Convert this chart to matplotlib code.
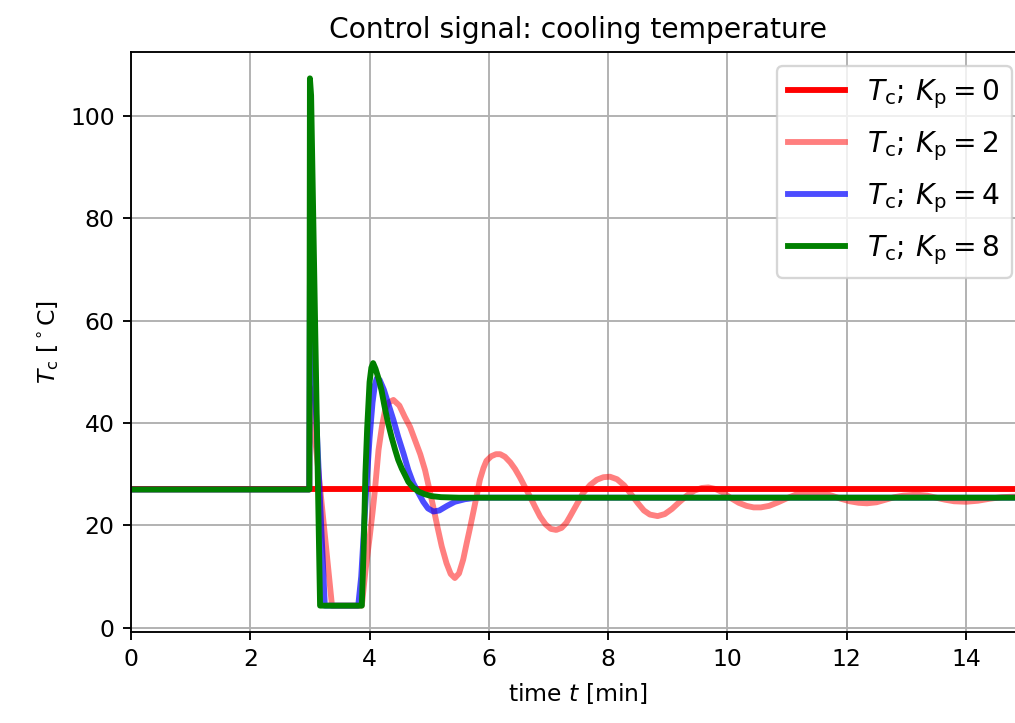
import numpy as np
import matplotlib
matplotlib.use("Agg")
import matplotlib.pyplot as plt

# values (time in min, temperature in degC)
t_kp0 = [0, 15]
Tc_kp0 = [27, 27]

t_kp2 = [0, 2.99, 3.0, 3.37, 3.87, 3.93, 4.0, 4.05, 4.09, 4.15, 4.21, 4.26, 4.32,
         4.40, 4.5, 4.59, 4.68, 4.76, 4.85, 4.93, 5.0, 5.07, 5.14, 5.21, 5.29,
         5.36, 5.43, 5.5, 5.57, 5.63, 5.69, 5.74, 5.8, 5.85, 5.91, 5.96, 6.04,
         6.12, 6.19, 6.27, 6.36, 6.44, 6.52, 6.6, 6.69, 6.78, 6.86, 6.95, 7.04,
         7.13, 7.22, 7.3, 7.36, 7.47, 7.58, 7.7, 7.81, 7.92, 8.03, 8.15, 8.27,
         8.39, 8.5, 8.6, 8.7, 8.83, 8.95, 9.07, 9.2, 9.33, 9.45, 9.57, 9.68,
         9.8, 9.93, 10.06, 10.19, 10.32, 10.44, 10.56, 10.7, 10.85, 11.0, 11.15,
         11.3, 11.45, 11.6, 11.75, 11.9, 12.05, 12.2, 12.34, 12.5, 12.65, 12.8,
         12.95, 13.17, 13.35, 13.5, 13.65, 13.8, 14.0, 14.2, 14.4, 14.6, 14.8, 15.0]
Tc_kp2 = [27, 27, 47, 4.3, 4.3, 11, 17.5, 22.5, 26.9, 34.7, 39.5, 42.5, 44,
          44.5, 43.4, 41.2, 39.2, 36.7, 33.9, 30.8, 27.2, 23.5, 19.6, 15.9, 12.6,
          10.5, 9.7, 10.6, 13.3, 16.6, 19.8, 22.6, 26, 28.9, 31.2, 32.6, 33.5,
          33.9, 33.9, 33.4, 32.3, 31, 29.4, 27.6, 25.6, 23.5, 21.7, 20.2, 19.3,
          19.1, 19.5, 20.5, 21.7, 24, 26.3, 27.9, 28.9, 29.4, 29.5, 29, 27.8,
          26, 24.3, 22.9, 22.1, 21.8, 22.2, 23.2, 24.6, 25.9, 26.8, 27.3, 27.4,
          27.1, 26.4, 25.3, 24.4, 23.8, 23.5, 23.5, 23.8, 24.5, 25.3, 26,
          26.4, 26.5, 26.3, 25.8, 25.2, 24.7, 24.4, 24.3, 24.5, 25, 25.5,
          25.8, 26.0, 25.8, 25.4, 25, 24.7, 24.6, 24.8, 25.2, 25.5, 25.6, 25.6]

t_kp4 = [0, 2.99, 3.0, 3.02, 3.25, 3.81, 3.86, 3.9, 3.95, 4.0, 4.05, 4.09, 4.12,
         4.17, 4.24, 4.31, 4.4, 4.48, 4.57, 4.65, 4.73, 4.82, 4.9, 4.98, 5.07,
         5.17, 5.3, 5.43, 5.6, 5.8, 6.2, 15]
Tc_kp4 = [27, 27, 67, 63, 4.3, 4.3, 10, 18, 28, 37, 44, 47.5, 48.7,
          48.4, 46.5, 43.9, 40.6, 37.3, 34, 30.8, 28.3, 26.3, 24.6, 23.3, 22.7,
          22.9, 23.8, 24.6, 25.1, 25.4, 25.4, 25.4]

t_kp8 = [0, 2.99, 3.0, 3.02, 3.17, 3.87, 3.9, 3.93, 3.96, 4.0, 4.03, 4.06, 4.1,
         4.15, 4.2, 4.25, 4.31, 4.37, 4.43, 4.48, 4.54, 4.6, 4.65, 4.73, 4.82,
         4.92, 5.04, 5.2, 5.5, 15]
Tc_kp8 = [27, 27, 107.35, 104, 4.3, 4.3, 15, 30, 39, 48, 50.8, 51.7, 50.6,
          48.7, 46.4, 43.3, 40, 37.2, 34.7, 32.8, 31.1, 29.7, 28.5, 27.4, 26.6,
          26.1, 25.7, 25.5, 25.4, 25.4]

fig = plt.figure(figsize=(1015 / 169, 723 / 169), dpi=169)
ax = fig.add_axes([131 / 1015, 1 - 632 / 723, 894.6 / 1015, 580 / 723])

ax.plot(t_kp0, Tc_kp0, color="r", lw=2.5, label=r"$T_\mathrm{c};\, K_\mathrm{p} = 0$")
ax.plot(t_kp2, Tc_kp2, color="r", alpha=0.5, lw=2.5, label=r"$T_\mathrm{c};\, K_\mathrm{p} = 2$")
ax.plot(t_kp4, Tc_kp4, color="b", alpha=0.7, lw=2.5, label=r"$T_\mathrm{c};\, K_\mathrm{p} = 4$")
ax.plot(t_kp8, Tc_kp8, color="g", lw=2.5, label=r"$T_\mathrm{c};\, K_\mathrm{p} = 8$")

ax.set_xlim(0, 15)
ax.set_ylim(-0.85, 112.5)
ax.set_xticks(np.arange(0, 15, 2))
ax.set_yticks(np.arange(0, 101, 20))
ax.grid(True)
ax.set_title("Control signal: cooling temperature", fontsize=12)
ax.set_xlabel(r"time $t$ [min]")
ax.set_ylabel(r"$T_\mathrm{c}$ [$^\circ$C]")
ax.legend(loc="upper right", fontsize=12, labelspacing=0.65)

fig.savefig("out.png", dpi=169)
